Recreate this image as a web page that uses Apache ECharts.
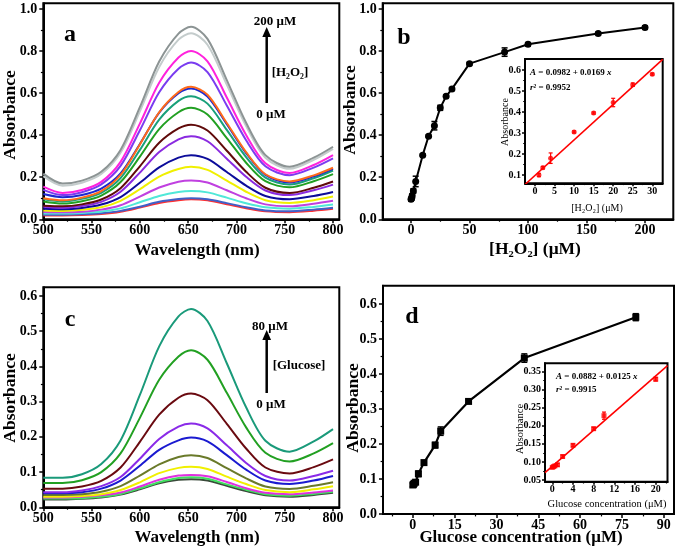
<!DOCTYPE html>
<html><head><meta charset="utf-8">
<script src="https://cdn.jsdelivr.net/npm/echarts@6/dist/echarts.min.js"></script>
<style>html,body{margin:0;padding:0;background:#fff}#c{width:681px;height:550px}</style>
</head><body><div id="c"></div>
<script>
// ---------------- data ----------------
const wavelengths = [500,520,540,560,580,600,620,640,653,670,690,710,730,755,780,800];

const h2o2Spectra = [
  [.217,.17,.184,.226,.33,.533,.75,.883,.915,.858,.662,.459,.305,.25,.293,.345],
  [.205,.16,.174,.215,.316,.513,.724,.854,.885,.83,.640,.443,.293,.24,.283,.335],
  [.155,.125,.139,.178,.273,.455,.649,.769,.80,.751,.579,.401,.266,.22,.258,.305],
  [.14,.115,.129,.166,.254,.423,.604,.716,.745,.70,.541,.376,.252,.21,.246,.29],
  [.10,.09,.103,.134,.211,.356,.509,.605,.63,.592,.458,.319,.214,.18,.209,.245],
  [.12,.105,.116,.146,.218,.358,.507,.599,.622,.584,.452,.315,.211,.175,.204,.24],
  [.095,.085,.097,.126,.196,.33,.474,.563,.585,.55,.425,.296,.198,.165,.195,.232],
  [.085,.075,.086,.113,.177,.298,.429,.509,.53,.498,.386,.269,.181,.152,.181,.215],
  [.065,.062,.071,.094,.148,.252,.364,.432,.45,.422,.326,.226,.150,.125,.15,.18],
  [.06,.055,.063,.083,.131,.222,.32,.38,.395,.371,.288,.202,.137,.115,.138,.165],
  [.05,.048,.054,.07,.106,.174,.247,.293,.305,.287,.225,.160,.111,.095,.111,.13],
  [.042,.04,.045,.057,.088,.143,.203,.239,.25,.235,.184,.131,.091,.078,.091,.108],
  [.035,.033,.036,.046,.067,.108,.151,.179,.185,.175,.138,.100,.071,.062,.074,.088],
  [.028,.027,.03,.037,.052,.081,.111,.13,.135,.128,.103,.076,.057,.05,.059,.07],
  [.022,.022,.024,.029,.04,.06,.083,.096,.10,.095,.077,.057,.042,.038,.046,.055],
  [.018,.018,.02,.025,.036,.056,.078,.091,.095,.09,.072,.053,.038,.034,.041,.05]
];
const h2o2Colors = ['#8c9494','#c4cccc','#ff22dd','#7a3cf0','#ff6a1a','#1c28d0','#18a07a','#22a022',
  '#600a0a','#8a2ae0','#0c0c9a','#f0f000','#c040e0','#50e8d8','#4060c8','#ff3030'];

const glucoseSpectra = [
  [.084,.084,.094,.123,.19,.319,.457,.542,.563,.529,.409,.284,.189,.158,.187,.222],
  [.069,.069,.077,.10,.153,.254,.362,.428,.446,.419,.325,.227,.155,.13,.153,.182],
  [.053,.053,.059,.075,.113,.186,.263,.311,.323,.304,.237,.167,.113,.096,.114,.136],
  [.043,.043,.048,.06,.086,.138,.194,.229,.238,.224,.176,.126,.089,.076,.089,.104],
  [.04,.04,.043,.053,.076,.118,.163,.19,.198,.187,.148,.107,.076,.066,.076,.089],
  [.035,.035,.037,.044,.06,.09,.122,.143,.148,.14,.111,.082,.059,.052,.061,.071],
  [.03,.03,.032,.037,.049,.071,.097,.112,.115,.109,.087,.066,.049,.043,.051,.06],
  [.028,.028,.03,.034,.042,.059,.078,.09,.092,.088,.072,.054,.041,.037,.042,.048],
  [.025,.025,.026,.03,.038,.054,.071,.083,.085,.081,.065,.05,.037,.033,.038,.044],
  [.022,.022,.024,.028,.036,.051,.068,.078,.08,.076,.061,.046,.034,.03,.035,.041]
];
const glucoseColors = ['#1a9a7a','#22a022','#6a0a10','#8a2ae8','#1a1ad0','#6a7a2a','#f0f000','#e030e0','#40e060','#3a4a3a'];

const h2o2Conc = [0,0.5,1,2,4,10,15,20,25,30,35,50,80,100,160,200];
const h2o2Abs  = [0.095,0.10,0.112,0.135,0.18,0.305,0.395,0.445,0.53,0.585,0.62,0.74,0.795,0.832,0.883,0.912];
const h2o2Err  = [0.008,0.008,0.01,0.01,0.025,0.005,0.005,0.02,0.012,0.006,0.006,0.006,0.02,0.008,0.006,0.008];

const h2o2LinConc = [1,2,4,10,15,20,25,30];
const h2o2LinAbs  = [0.10,0.135,0.18,0.305,0.395,0.445,0.53,0.58];
const h2o2LinErr  = [0.008,0.006,0.025,0.005,0.005,0.02,0.008,0.005];
const h2o2Fit = [[-2.56,0.0549],[32.66,0.650]];

const glucoseConc = [0,0.25,0.5,1,2,4,8,10,20,40,80];
const glucoseAbs  = [0.083,0.085,0.088,0.091,0.115,0.147,0.197,0.237,0.322,0.446,0.563];
const glucoseErr  = [0.005,0.005,0.005,0.005,0.008,0.006,0.008,0.012,0.005,0.012,0.01];

const glucoseLinConc = [0,0.25,0.5,1,2,4,8,10,20];
const glucoseLinAbs  = [0.085,0.087,0.089,0.092,0.115,0.146,0.192,0.228,0.329];
const glucoseLinErr  = [0.003,0.003,0.003,0.004,0.004,0.004,0.004,0.01,0.005];
const glucoseFit = [[-1.41,0.0706],[22.28,0.3667]];

// tick values
const wlTicks = [500,550,600,650,700,750,800], wlMinor = [525,575,625,675,725,775];
const absTicks1 = [0,0.2,0.4,0.6,0.8,1.0], absMinor1 = [0.1,0.3,0.5,0.7,0.9];
const absTicks2 = [0,0.1,0.2,0.3,0.4,0.5,0.6], absMinor2 = [0.05,0.15,0.25,0.35,0.45,0.55];
const h2o2Ticks = [0,50,100,150,200], h2o2Minor = [25,75,125,175];
const glcTicks = [0,15,30,45,60,75,90], glcMinor = [-7.5,7.5,22.5,37.5,52.5,67.5,82.5];
const insBxTicks = [0,5,10,15,20,25,30], insBxMinor = [2.5,7.5,12.5,17.5,22.5,27.5];
const insByTicks = [0.1,0.2,0.3,0.4,0.5,0.6], insByMinor = [0.15,0.25,0.35,0.45,0.55];
const insDxTicks = [0,4,8,12,16,20], insDxMinor = [2,6,10,14,18,22];
const insDyTicks = [0.05,0.1,0.15,0.2,0.25,0.3,0.35], insDyMinor = [0.075,0.125,0.175,0.225,0.275,0.325];

// ---------------- layout ----------------
const FONT = '"Liberation Serif","Times New Roman",serif';
const grids = [
  {left:43.3, top:3.3, width:296, height:216},      // a
  {left:382.7, top:3.3, width:290.6, height:216},   // b
  {left:525, top:59, width:137.7, height:124.3},    // b inset
  {left:43.3, top:287.3, width:296, height:220},    // c
  {left:383, top:285.7, width:291, height:228.3},   // d
  {left:545, top:363.3, width:122.5, height:118.4}  // d inset
];
const xAxes = [], yAxes = [];
function addAxes(list, dim, g, min, max, majors, minors, dec, fs, margin, tl) {
  const main = {
    type:'value', gridIndex:g, min:min, max:max, position: dim==='x'?'bottom':'left',
    axisLine:{show:true, onZero:false, lineStyle:{color:'#000', width:2}},
    axisTick:{show:true, customValues:majors, length:tl, lineStyle:{color:'#000', width:1.5}},
    axisLabel:{show:true, customValues:majors, formatter:v=>Number(v).toFixed(dec), color:'#000',
      fontFamily:FONT, fontWeight:'bold', fontSize:fs, margin:margin},
    splitLine:{show:false}
  };
  const minor = {
    type:'value', gridIndex:g, min:min, max:max, position: dim==='x'?'bottom':'left',
    axisLine:{show:false, onZero:false},
    axisTick:{show:true, customValues:minors, length:tl*0.6, lineStyle:{color:'#000', width:1.2}},
    axisLabel:{show:false}, splitLine:{show:false}
  };
  list.push(main, minor);
}
addAxes(xAxes,'x',0,500,806.5,wlTicks,wlMinor,0,14,4,4);
addAxes(yAxes,'y',0,0,1.027,absTicks1,absMinor1,1,14,6,4);
addAxes(xAxes,'x',1,-24.2,224.2,h2o2Ticks,h2o2Minor,0,14,4,4);
addAxes(yAxes,'y',1,0,1.027,absTicks1,absMinor1,1,14,6,4);
addAxes(xAxes,'x',2,-2.56,32.66,insBxTicks,insBxMinor,0,10,3,3);
addAxes(yAxes,'y',2,0.0605,0.652,insByTicks,insByMinor,1,10,4,3);
addAxes(xAxes,'x',3,500,806.5,wlTicks,wlMinor,0,14,4,4);
addAxes(yAxes,'y',3,0,0.6247,absTicks2,absMinor2,1,14,6,4);
addAxes(xAxes,'x',4,-10.7,93.7,glcTicks,glcMinor,0,14,4,4);
addAxes(yAxes,'y',4,0,0.653,absTicks2,absMinor2,1,14,6,4);
addAxes(xAxes,'x',5,-1.41,22.28,insDxTicks,insDxMinor,0,10,3,3);
addAxes(yAxes,'y',5,0.0453,0.373,insDyTicks,insDyMinor,2,10,4,3);

// ---------------- series ----------------
const series = [];
function spectra(list, colors, g) {
  for (let i = list.length - 1; i >= 0; i--) {
    series.push({type:'line', xAxisIndex:2*g, yAxisIndex:2*g, smooth:0.3,
      showSymbol:false, symbol:'none', lineStyle:{color:colors[i], width:2}, silent:true,
      data: wavelengths.map((w,k)=>[w, list[i][k]])});
  }
}
spectra(h2o2Spectra, h2o2Colors, 0);
spectra(glucoseSpectra, glucoseColors, 3);

function errSeries(xs, ys, es, g, color, cap, lw) {
  series.push({type:'custom', xAxisIndex:2*g, yAxisIndex:2*g, z:5, silent:true,
    data: xs.map((x,i)=>[x, ys[i]-es[i], ys[i]+es[i]]),
    renderItem:(p, api)=>{
      const lo = api.coord([api.value(0), api.value(1)]);
      const hi = api.coord([api.value(0), api.value(2)]);
      const st = {stroke:color, lineWidth:lw};
      return {type:'group', children:[
        {type:'line', shape:{x1:lo[0],y1:lo[1],x2:hi[0],y2:hi[1]}, style:st},
        {type:'line', shape:{x1:lo[0]-cap,y1:lo[1],x2:lo[0]+cap,y2:lo[1]}, style:st},
        {type:'line', shape:{x1:hi[0]-cap,y1:hi[1],x2:hi[0]+cap,y2:hi[1]}, style:st}
      ]};
    }});
}
// b main
series.push({type:'line', xAxisIndex:2, yAxisIndex:2, symbol:'circle', symbolSize:7,
  itemStyle:{color:'#000'}, lineStyle:{color:'#000', width:2}, silent:true,
  data:h2o2Conc.map((x,i)=>[x,h2o2Abs[i]])});
errSeries(h2o2Conc,h2o2Abs,h2o2Err,1,'#000',3,1.5);
// b inset
series.push({type:'line', xAxisIndex:4, yAxisIndex:4, symbol:'none', lineStyle:{color:'#ff0000', width:1.6},
  silent:true, data:h2o2Fit});
series.push({type:'scatter', xAxisIndex:4, yAxisIndex:4, symbol:'circle', symbolSize:5,
  itemStyle:{color:'#ff0000'}, silent:true, data:h2o2LinConc.map((x,i)=>[x,h2o2LinAbs[i]])});
errSeries(h2o2LinConc,h2o2LinAbs,h2o2LinErr,2,'#ff0000',2,1.2);
// d main
series.push({type:'line', xAxisIndex:8, yAxisIndex:8, symbol:'rect', symbolSize:7,
  itemStyle:{color:'#000'}, lineStyle:{color:'#000', width:2.2}, silent:true,
  data:glucoseConc.map((x,i)=>[x,glucoseAbs[i]])});
errSeries(glucoseConc,glucoseAbs,glucoseErr,4,'#000',3,1.5);
// d inset
series.push({type:'line', xAxisIndex:10, yAxisIndex:10, symbol:'none', lineStyle:{color:'#ff0000', width:1.6},
  silent:true, data:glucoseFit});
series.push({type:'scatter', xAxisIndex:10, yAxisIndex:10, symbol:'rect', symbolSize:5,
  itemStyle:{color:'#ff0000'}, silent:true, data:glucoseLinConc.map((x,i)=>[x,glucoseLinAbs[i]])});
errSeries(glucoseLinConc,glucoseLinAbs,glucoseLinErr,5,'#ff0000',2,1.2);

// ---------------- texts ----------------
function txt(x, y, text, size, opts) {
  opts = opts || {};
  return {type:'text', x:x, y:y, rotation:opts.rot||0, z:100, silent:true,
    style:{text:text, fill:'#000', fontFamily:FONT, fontWeight:opts.w||'bold', fontSize:size,
      fontStyle:opts.it?'italic':'normal',
      align:'center', verticalAlign:'middle', textAlign:'center', textVerticalAlign:'middle',
      rich: opts.rich}};
}
const R = Math.PI/2;
const richI = {i:{fontStyle:'italic', fontFamily:FONT, fontWeight:'bold', fontSize:9}};
const graphic = [
  txt(10,115,'Absorbance',17.5,{rot:R}),
  txt(197,251,'Wavelength (nm)',17),
  txt(350,110,'Absorbance',17.5,{rot:R}),
  txt(535,249,'[H₂O₂] (μM)',17.5),
  txt(10,398,'Absorbance',17.5,{rot:R}),
  txt(197,538,'Wavelength (nm)',17),
  txt(353,408,'Absorbance',17.5,{rot:R}),
  txt(521,538,'Glucose concentration (μM)',17),
  txt(70,35,'a',24), txt(404,38,'b',24), txt(70,320,'c',24), txt(412,317,'d',24),
  txt(275,22,'200 μM',13), txt(290,73,'[H₂O₂]',13), txt(271,115,'0 μM',13),
  txt(270,327,'80 μM',13), txt(299,366,'[Glucose]',13), txt(271,405,'0 μM',13),
  {type:'line', shape:{x1:266.7,y1:103,x2:266.7,y2:35}, style:{stroke:'#000', lineWidth:2.5}, z:100},
  {type:'polygon', shape:{points:[[262.3,37],[271.1,37],[266.7,27]]}, style:{fill:'#000'}, z:100},
  {type:'line', shape:{x1:266.7,y1:393,x2:266.7,y2:338}, style:{stroke:'#000', lineWidth:2.5}, z:100},
  {type:'polygon', shape:{points:[[262.3,340],[271.1,340],[266.7,330]]}, style:{fill:'#000'}, z:100},
  txt(505,122,'Absorbance',10,{rot:R, w:'normal'}),
  txt(597,208,'[H₂O₂] (μM)',10,{w:'normal'}),
  txt(520,429,'Absorbance',10.5,{rot:R, w:'normal'}),
  txt(607,504,'Glucose concentration (μM)',10.5,{w:'normal'}),
  {type:'text', x:530, y:73, z:100, silent:true, style:{text:'{i|A} = 0.0982 + 0.0169 {i|x}', fill:'#000',
    fontFamily:FONT, fontWeight:'bold', fontSize:9, align:'left', verticalAlign:'middle', rich:richI}},
  {type:'text', x:530, y:88, z:100, silent:true, style:{text:'{i|r}² = 0.9952', fill:'#000',
    fontFamily:FONT, fontWeight:'bold', fontSize:9, align:'left', verticalAlign:'middle', rich:richI}},
  {type:'text', x:556, y:377, z:100, silent:true, style:{text:'{i|A} = 0.0882 + 0.0125 {i|x}', fill:'#000',
    fontFamily:FONT, fontWeight:'bold', fontSize:9, align:'left', verticalAlign:'middle', rich:richI}},
  {type:'text', x:556, y:390, z:100, silent:true, style:{text:'{i|r}² = 0.9915', fill:'#000',
    fontFamily:FONT, fontWeight:'bold', fontSize:9, align:'left', verticalAlign:'middle', rich:richI}}
];

const chart = echarts.init(document.getElementById('c'), null, {renderer:'canvas'});
chart.setOption({
  animation:false,
  backgroundColor:'#fff',
  grid: grids.map((g,i)=>Object.assign({show:true, borderColor:'#000', borderWidth:2,
    backgroundColor:(i===2||i===5)?'#fff':'transparent', containLabel:false}, g)),
  xAxis:xAxes, yAxis:yAxes, series:series, graphic:graphic
});
</script></body></html>
